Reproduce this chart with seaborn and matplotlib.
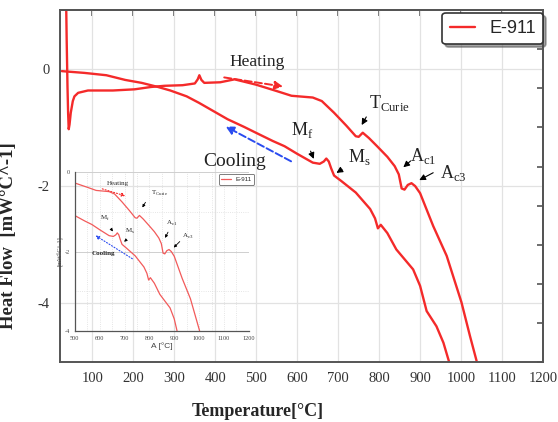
import matplotlib
matplotlib.use("Agg")
import matplotlib.pyplot as plt
import seaborn as sns
from matplotlib.ticker import MultipleLocator

# Curva de calentamiento (Heating)
heat_t = [35, 37, 39, 40.5, 42, 44, 47, 52, 56, 65,
          89, 150, 203, 243, 276, 320, 350, 357, 361, 366,
          373, 412, 447, 499, 550, 586, 638, 660, 690, 720,
          743, 750, 760, 775, 795, 820, 838, 848, 855, 862,
          870, 879, 888, 900, 932, 965, 1001, 1022, 1038]
heat_q = [1.5, 0.5, -0.3, -0.75, -1.03, -0.95, -0.75, -0.55, -0.47, -0.41,
          -0.37, -0.37, -0.35, -0.31, -0.29, -0.28, -0.25, -0.18, -0.11, -0.19,
          -0.24, -0.23, -0.18, -0.27, -0.38, -0.46, -0.49, -0.55, -0.75, -0.97,
          -1.15, -1.16, -1.09, -1.18, -1.32, -1.5, -1.66, -1.8, -2.04, -2.06,
          -1.98, -1.95, -2.0, -2.12, -2.68, -3.19, -3.98, -4.56, -4.98]

# Curva de enfriamiento (Cooling)
cool_t = [25, 80, 134, 180, 220, 260, 290, 330, 360, 400,
          430, 470, 499, 540, 569, 600, 638, 655, 665, 671,
          677, 683, 690, 707, 743, 778, 790, 797, 804, 820,
          842, 883, 900, 916, 940, 957, 971]
cool_q = [-0.04, -0.07, -0.11, -0.19, -0.24, -0.31, -0.37, -0.47, -0.58, -0.74,
          -0.86, -0.99, -1.09, -1.23, -1.32, -1.45, -1.6, -1.62, -1.58, -1.53,
          -1.58, -1.7, -1.82, -1.91, -2.11, -2.39, -2.55, -2.72, -2.66, -2.8,
          -3.08, -3.42, -3.7, -4.13, -4.39, -4.67, -5.0]

serie = "E-911"
rojo = "#f42a2a"
gris = "#555555"

sns.set_theme(style="white")
plt.rcParams["font.family"] = ["Liberation Serif", "DejaVu Serif"]
plt.rcParams["mathtext.fontset"] = "custom"
plt.rcParams["mathtext.rm"] = "Liberation Serif"
plt.rcParams["axes.unicode_minus"] = False

fig = plt.figure(figsize=(5.58, 4.22), dpi=100)
ax = fig.add_axes([0.107, 0.142, 0.866, 0.834])

sns.lineplot(x=heat_t, y=heat_q, ax=ax, color=rojo, lw=1.7, sort=False,
             estimator=None, label=serie)
sns.lineplot(x=cool_t, y=cool_q, ax=ax, color=rojo, lw=1.7, sort=False,
             estimator=None)

ax.set_xlim(20, 1200)
ax.set_ylim(-5, 1)
ax.xaxis.set_major_locator(MultipleLocator(100))
ax.xaxis.set_minor_locator(MultipleLocator(50))
ax.yaxis.set_major_locator(MultipleLocator(2))
ax.yaxis.set_minor_locator(MultipleLocator(1))
ax.grid(True, which="major", color="#e2e2e2", lw=0.9)
ax.tick_params(axis="both", which="major", direction="out", length=4, width=1.2,
               color=gris, labelsize=10.5, labelcolor="#333333")
ax.tick_params(axis="both", which="minor", direction="out", length=3, width=1.0,
               color=gris)
for s in ax.spines.values():
    s.set_color(gris)
    s.set_linewidth(1.4)

# marcas interiores arriba y a la derecha
arriba = ax.secondary_xaxis("top")
arriba.xaxis.set_major_locator(MultipleLocator(100))
arriba.tick_params(direction="in", length=4, width=1.2, color=gris, labeltop=False)
arriba.spines["top"].set_color(gris)
arriba.spines["top"].set_linewidth(1.4)
derecha = ax.secondary_yaxis("right")
derecha.yaxis.set_major_locator(MultipleLocator(2 / 3, offset=1 / 3))
derecha.tick_params(direction="in", length=4, width=1.2, color=gris, labelright=False)
derecha.spines["right"].set_color(gris)
derecha.spines["right"].set_linewidth(1.4)

ax.set_xlabel("Temperature[°C]", fontsize=13, fontweight="bold")
ax.xaxis.set_label_coords(0.41, -0.115)
ax.set_ylabel("Heat Flow  [mW°C^-1]", fontsize=13.5, fontweight="bold")
ax.yaxis.set_label_coords(-0.088, 0.36)

leg = ax.legend(loc="upper right", bbox_to_anchor=(1.006, 1.0), fancybox=True,
                shadow=True, frameon=True, handlelength=1.4, borderaxespad=0.15,
                prop={"family": "Liberation Sans", "size": 13})
leg.get_frame().set_edgecolor("#333333")
leg.get_frame().set_linewidth(1.2)

# Textos y flechas del grafico principal
ax.text(503, 0.12, "Heating", fontsize=12.5, ha="center", va="center", color="#222222")
ax.annotate("", xy=(572, -0.31), xytext=(415, -0.14),
            arrowprops=dict(arrowstyle="-|>", linestyle="--", color=rojo, lw=1.4))
ax.text(447, -1.58, "Cooling", fontsize=14, ha="center", va="center", color="#222222")
ax.annotate("", xy=(419, -0.96), xytext=(591, -1.6),
            arrowprops=dict(arrowstyle="-|>", linestyle="--", color="#2a4bf0", lw=1.4))

etiquetas = [
    (r"T$_{\mathrm{Curie}}$", (826, -0.58), (772, -0.78), (754, -1.0)),
    (r"M$_{\mathrm{f}}$", (611, -1.05), (630, -1.36), (643, -1.58)),
    (r"M$_{\mathrm{s}}$", (751, -1.5), (715, -1.69), (690, -1.8)),
    (r"A$_{\mathrm{c1}}$", (908, -1.48), (882, -1.54), (854, -1.71)),
    (r"A$_{\mathrm{c3}}$", (982, -1.77), (938, -1.75), (892, -1.92)),
]
for txt, pos, ini, fin in etiquetas:
    ax.text(pos[0], pos[1], txt, fontsize=13, ha="center", va="center", color="#222222")
    ax.annotate("", xy=fin, xytext=ini,
                arrowprops=dict(arrowstyle="-|>", color="black", lw=0.8, mutation_scale=9))

# Grafico insertado (zoom de la misma medida)
axi = fig.add_axes([0.134, 0.216, 0.312, 0.376])
axi.set_facecolor("none")
sns.lineplot(x=heat_t, y=heat_q, ax=axi, color="#f25a5a", lw=0.9, sort=False,
             estimator=None, label=serie)
sns.lineplot(x=cool_t, y=cool_q, ax=axi, color="#f25a5a", lw=0.9, sort=False,
             estimator=None)
axi.set_xlim(500, 1200)
axi.set_ylim(-4, 0)
axi.xaxis.set_major_locator(MultipleLocator(100))
axi.xaxis.set_minor_locator(MultipleLocator(50))
axi.yaxis.set_major_locator(MultipleLocator(2))
axi.yaxis.set_minor_locator(MultipleLocator(1))
axi.grid(True, which="major", axis="y", color="#cfcfcf", lw=0.7)
axi.grid(True, which="minor", color="#dddddd", lw=0.6, linestyle=":")
axi.grid(True, which="major", axis="x", color="#dddddd", lw=0.6, linestyle=":")
axi.tick_params(axis="both", which="major", direction="out", length=2, width=0.7,
                color=gris, labelsize=4.5, labelcolor="#444444", pad=1.5)
axi.tick_params(axis="both", which="minor", direction="out", length=1.5, width=0.6,
                color=gris)
axi.spines["top"].set_visible(False)
axi.spines["right"].set_visible(False)
for s in ["left", "bottom"]:
    axi.spines[s].set_color(gris)
    axi.spines[s].set_linewidth(0.9)
axi.set_xlabel("A [°C]", fontsize=6, family="Liberation Sans", color="#444444", labelpad=1)
axi.set_ylabel("[mW°C^-1]", fontsize=4.5, color="#444444", labelpad=1)

legi = axi.legend(loc="center", bbox_to_anchor=(0.93, 0.955), fancybox=True,
                  frameon=True, handlelength=1.5,
                  prop={"family": "Liberation Sans", "size": 4.5})
legi.get_frame().set_edgecolor("#444444")
legi.get_frame().set_linewidth(0.6)

axi.text(675, -0.28, "Heating", fontsize=5, ha="center", va="center")
axi.annotate("", xy=(714, -0.62), xytext=(600, -0.4),
             arrowprops=dict(arrowstyle="-|>", linestyle=":", color=rojo, lw=0.8,
                             mutation_scale=5))
axi.text(614, -2.05, "Cooling", fontsize=5, ha="center", va="center", fontweight="bold")
axi.annotate("", xy=(574, -1.56), xytext=(741, -2.22),
             arrowprops=dict(arrowstyle="-|>", linestyle=":", color="#2a4bf0", lw=0.8,
                             mutation_scale=5))
etiq_ins = [
    (r"T$_{\mathrm{Curie}}$", (840, -0.53), (790, -0.7), (766, -0.95)),
    (r"M$_{\mathrm{f}}$", (620, -1.16), (640, -1.38), (660, -1.55)),
    (r"M$_{\mathrm{s}}$", (724, -1.5), (712, -1.68), (690, -1.8)),
    (r"A$_{\mathrm{c1}}$", (889, -1.29), (880, -1.45), (858, -1.72)),
    (r"A$_{\mathrm{c3}}$", (956, -1.61), (930, -1.7), (890, -1.95)),
]
for txt, pos, ini, fin in etiq_ins:
    axi.text(pos[0], pos[1], txt, fontsize=5, ha="center", va="center")
    axi.annotate("", xy=fin, xytext=ini,
                 arrowprops=dict(arrowstyle="-|>", color="black", lw=0.6, mutation_scale=4))

fig.savefig("out.png", dpi=100)
